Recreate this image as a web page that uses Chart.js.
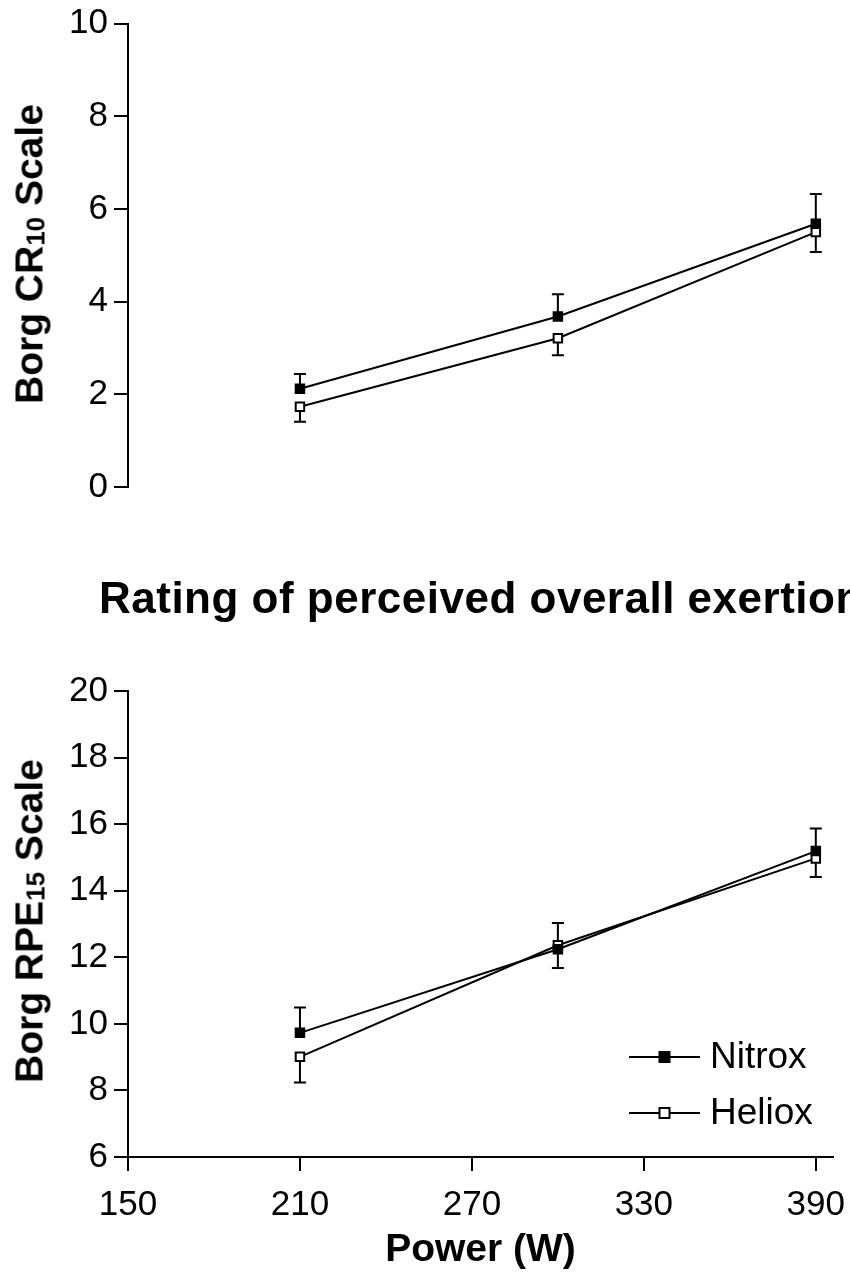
<!DOCTYPE html>
<html>
<head>
<meta charset="utf-8">
<script src="https://cdn.jsdelivr.net/npm/chart.js@4.4.1/dist/chart.umd.min.js"></script>
<style>
  html, body { margin: 0; padding: 0; background: #fff; overflow: hidden; }
  #wrap { position: relative; width: 850px; height: 1276px; overflow: hidden;
          font-family: 'Liberation Sans', Arial, sans-serif; color: #000; }
  canvas { position: absolute; left: 0; }
  #cTop { top: 0; }
  #cBot { top: 540px; }
  .ytitle { position: absolute; font-weight: bold; font-size: 39px; line-height: 1;
            white-space: nowrap; transform: translate(-50%, -50%) rotate(-90deg); }
  .ytitle .sub { font-size: 26px; position: relative; top: 2px; }
  #mainTitle { position: absolute; left: 99px; top: 576px; font-weight: bold; font-size: 44px;
               line-height: 1; white-space: nowrap; letter-spacing: 0.5px; }
</style>
</head>
<body>
<div id="wrap">
  <canvas id="cTop" width="850" height="540"></canvas>
  <canvas id="cBot" width="850" height="736"></canvas>
  <div class="ytitle" style="left:29px; top:254px;">Borg CR<span class="sub">10</span> Scale</div>
  <div id="mainTitle">Rating of perceived overall exertion</div>
  <div class="ytitle" style="left:29px; top:921px;">Borg RPE<span class="sub">15</span> Scale</div>
</div>
<script>
'use strict';

var powerW = [210, 300, 390];
var seriesNames = ['Nitrox', 'Heliox'];

// Borg CR10 (mean, sem)
var cr10Nitrox = [2.12, 3.68, 5.68];
var cr10NitroxSem = [0.32, 0.48, 0.64];
var cr10Heliox = [1.73, 3.21, 5.50];
var cr10HelioxSem = [0.32, 0.37, 0.43];

// Borg RPE15 (mean, sem)
var rpeNitrox = [9.73, 12.24, 15.19];
var rpeNitroxSem = [0.76, 0.79, 0.68];
var rpeHeliox = [9.01, 12.36, 14.97];
var rpeHelioxSem = [0.77, 0.68, 0.56];

var powerTicks = [150, 210, 270, 330, 390];
var cr10Ticks = [0, 2, 4, 6, 8, 10];
var rpeTicks = [6, 8, 10, 12, 14, 16, 18, 20];

var FONT = "'Liberation Sans', Arial, sans-serif";
Chart.defaults.font.family = FONT;
Chart.defaults.color = '#000';

//vertical error bars, nitrox goes up and heliox goes down
var errorBars = {
  id: 'errorBars',
  beforeDatasetsDraw: function (chart) {
    var ctx = chart.ctx;
    var yScale = chart.scales.y;
    chart.data.datasets.forEach(function (ds, i) {
      var meta = chart.getDatasetMeta(i);
      ctx.save();
      ctx.strokeStyle = '#000';
      ctx.lineWidth = 2;
      meta.data.forEach(function (pt, j) {
        var end = yScale.getPixelForValue(ds.data[j].y + ds.errDir * ds.sem[j]);
        ctx.beginPath();
        ctx.moveTo(pt.x, pt.y);
        ctx.lineTo(pt.x, end);
        ctx.moveTo(pt.x - 6, end);
        ctx.lineTo(pt.x + 6, end);
        ctx.stroke();
      });
      ctx.restore();
    });
  }
};

//legend sitting inside the plot, bottom right
var cornerLegend = {
  id: 'cornerLegend',
  afterDraw: function (chart) {
    var ctx = chart.ctx;
    var area = chart.chartArea;
    ctx.save();
    chart.data.datasets.forEach(function (ds, i) {
      var y = area.bottom - 100 + i * 56;
      var x0 = area.right - 204, x1 = area.right - 133;
      var xm = (x0 + x1) / 2;
      ctx.strokeStyle = '#000';
      ctx.lineWidth = 2;
      ctx.beginPath();
      ctx.moveTo(x0, y);
      ctx.lineTo(x1, y);
      ctx.stroke();
      ctx.fillStyle = ds.pointBackgroundColor;
      ctx.fillRect(xm - 5, y - 5, 10, 10);
      ctx.strokeRect(xm - 5, y - 5, 10, 10);
      ctx.fillStyle = '#000';
      ctx.font = '37px ' + FONT;
      ctx.textAlign = 'left';
      ctx.textBaseline = 'middle';
      ctx.fillText(ds.label, area.right - 123, y + 1);
    });
    ctx.restore();
  }
};

function makeSet(name, ys, sem, dir, fill) {
  return {
    label: name,
    data: powerW.map(function (x, i) { return { x: x, y: ys[i] }; }),
    sem: sem,
    errDir: dir,
    borderColor: '#000',
    borderWidth: 2,
    pointStyle: 'rect',
    pointRadius: 6,
    pointBorderWidth: 2,
    pointBackgroundColor: fill,
    pointBorderColor: '#000',
    tension: 0,
    fill: false
  };
}

function yAxis(tickList) {
  return {
    type: 'linear',
    min: tickList[0],
    max: tickList[tickList.length - 1],
    afterBuildTicks: function (s) { s.ticks = tickList.map(function (v) { return { value: v }; }); },
    afterFit: function (s) { s.width = 128; },
    border: { display: true, color: '#000', width: 2 },
    grid: { display: true, drawOnChartArea: false, drawTicks: true, tickLength: 14, color: '#000', lineWidth: 2 },
    ticks: { color: '#000', padding: 6, font: { size: 35, lineHeight: 1 } }
  };
}

function xAxis(show) {
  return {
    type: 'linear',
    display: show,
    min: 150,
    max: 396,
    afterBuildTicks: function (s) { s.ticks = powerTicks.map(function (v) { return { value: v }; }); },
    afterFit: function (s) {
      s.height = show ? 119 : 0;
      // let the end labels hang past the plot edges, like the original
      s.paddingLeft = 0;
      s.paddingRight = 0;
    },
    border: { display: true, color: '#000', width: 2 },
    grid: { display: true, drawOnChartArea: false, drawTicks: true, tickLength: 14, color: '#000', lineWidth: 2 },
    ticks: { color: '#000', padding: 17, maxRotation: 0, font: { size: 35, lineHeight: 1 } },
    title: { display: true, text: 'Power (W)', color: '#000', padding: { top: 0, bottom: 2 },
             font: { size: 39, weight: 'bold' } }
  };
}

function baseOpts(pad) {
  return {
    responsive: false,
    animation: false,
    devicePixelRatio: 1,
    layout: { padding: pad },
    plugins: { legend: { display: false }, tooltip: { enabled: false } },
    scales: {}
  };
}

//top panel: CR10
var optTop = baseOpts({ top: 20, right: 17, bottom: 53, left: 0 });
optTop.scales.x = xAxis(false);
optTop.scales.y = yAxis(cr10Ticks);
new Chart(document.getElementById('cTop').getContext('2d'), {
  type: 'line',
  data: { datasets: [
    makeSet(seriesNames[0], cr10Nitrox, cr10NitroxSem, 1, '#000'),
    makeSet(seriesNames[1], cr10Heliox, cr10HelioxSem, -1, '#fff')
  ] },
  options: optTop,
  plugins: [errorBars]
});

//bottom panel: RPE15
var optBot = baseOpts({ top: 151, right: 17, bottom: 0, left: 0 });
optBot.scales.x = xAxis(true);
optBot.scales.y = yAxis(rpeTicks);
new Chart(document.getElementById('cBot').getContext('2d'), {
  type: 'line',
  data: { datasets: [
    makeSet(seriesNames[0], rpeNitrox, rpeNitroxSem, 1, '#000'),
    makeSet(seriesNames[1], rpeHeliox, rpeHelioxSem, -1, '#fff')
  ] },
  options: optBot,
  plugins: [errorBars, cornerLegend]
});
</script>
</body>
</html>
